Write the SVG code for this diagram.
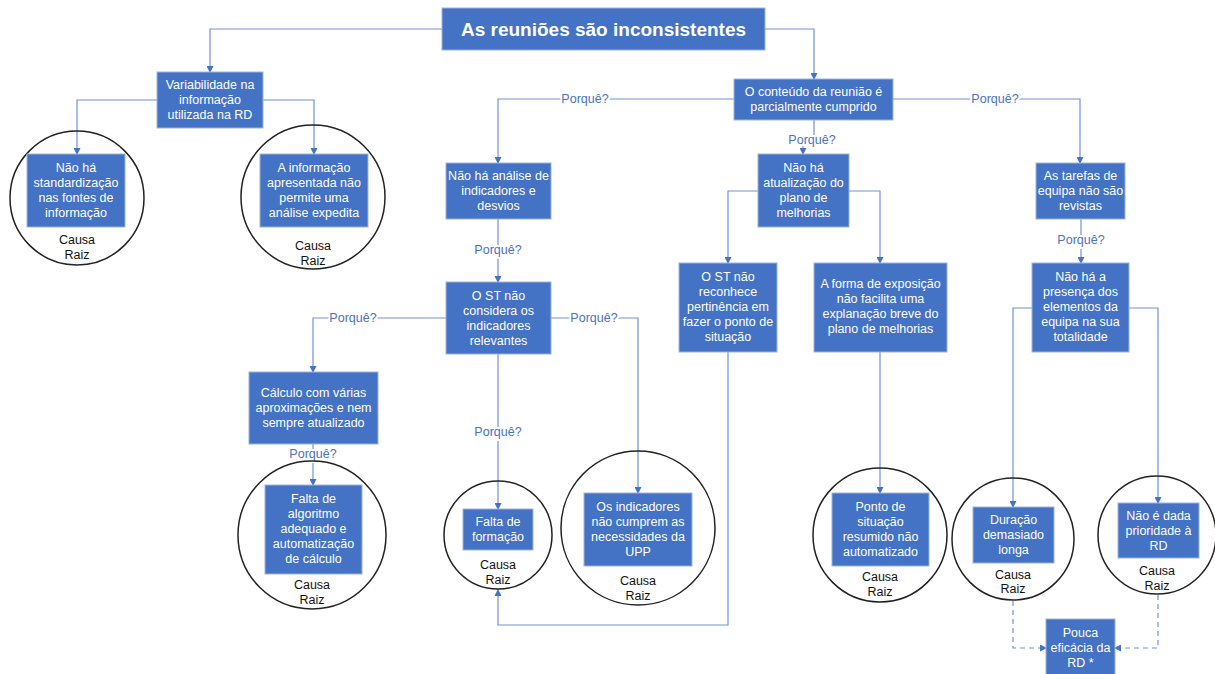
<svg xmlns="http://www.w3.org/2000/svg" width="1215" height="674" viewBox="0 0 1215 674">
  <style>
    .box { fill: #4472C4; stroke: #9db4e0; stroke-width: 1; }
    .t { font-family: "Liberation Sans", Arial, sans-serif; font-size: 12.5px; fill: #ffffff; text-anchor: middle; }
    .title { font-family: "Liberation Sans", Arial, sans-serif; font-size: 19px; font-weight: bold; fill: #ffffff; text-anchor: middle; }
    .root { fill: none; stroke: #222222; stroke-width: 1.5; }
    .rc { font-family: "Liberation Sans", Arial, sans-serif; font-size: 12.5px; fill: #111111; text-anchor: middle; }
    .edge { fill: none; stroke: #6f93d8; stroke-width: 1.2; marker-end: url(#arr); }
    .dash { stroke-dasharray: 5 4; }
    .lbl { font-family: "Liberation Sans", Arial, sans-serif; font-size: 12.5px; fill: #4a72bd; text-anchor: middle; stroke: #ffffff; stroke-width: 4; paint-order: stroke; }
  </style>
  <defs>
    <marker id="arr" markerUnits="userSpaceOnUse" markerWidth="7" markerHeight="7" refX="6" refY="3.5" orient="auto">
      <path d="M0,0 L7,3.5 L0,7 Z" fill="#4472C4"/>
    </marker>
  </defs>
  <rect width="1215" height="674" fill="#ffffff"/>

  <!-- connectors -->
  <g id="connectors">
    <path class="edge" d="M442,29 H210 V72"/>
    <path class="edge" d="M765,29 H814 V79"/>
    <path class="edge" d="M157,100 H77 V154"/>
    <path class="edge" d="M263,100 H314 V154"/>
    <path class="edge" d="M734,99 H498 V163"/>
    <path class="edge" d="M893,99 H1080 V163"/>
    <path class="edge" d="M814,120 V137 H803 V154"/>
    <path class="edge" d="M498,219 V282"/>
    <path class="edge" d="M758,191 H728 V263"/>
    <path class="edge" d="M849,191 H880 V263"/>
    <path class="edge" d="M1081,219 V263"/>
    <path class="edge" d="M446,318 H313 V372"/>
    <path class="edge" d="M551,318 H638 V493"/>
    <path class="edge" d="M498,354 V509"/>
    <path class="edge" d="M313,444 V485"/>
    <path class="edge" d="M728,352 V625 H498 V590"/>
    <path class="edge" d="M880,352 V493"/>
    <path class="edge" d="M1032,308 H1013 V507"/>
    <path class="edge" d="M1129,308 H1158 V503"/>
    <path class="edge dash" d="M1013,601 V648 H1046"/>
    <path class="edge dash" d="M1158,595 V648 H1115"/>
    <text class="lbl" x="585" y="103">Porquê?</text>
    <text class="lbl" x="995" y="103">Porquê?</text>
    <text class="lbl" x="812" y="144">Porquê?</text>
    <text class="lbl" x="498" y="254">Porquê?</text>
    <text class="lbl" x="1081" y="244">Porquê?</text>
    <text class="lbl" x="353" y="322">Porquê?</text>
    <text class="lbl" x="594" y="322">Porquê?</text>
    <text class="lbl" x="498" y="436">Porquê?</text>
    <text class="lbl" x="313" y="458">Porquê?</text>
  </g>

  <g id="title">
    <rect class="box" x="442" y="8" width="323" height="42"/>
    <text class="title" x="603.5" y="36">As reuniões são inconsistentes</text>
  </g>

  <g id="variabilidade">
    <rect class="box" x="157" y="72" width="106" height="56"/>
    <text class="t" x="210" y="89">Variabilidade na</text>
    <text class="t" x="210" y="104">informação</text>
    <text class="t" x="210" y="119">utilizada na RD</text>
  </g>

  <g id="standardizacao">
    <circle class="root" cx="77" cy="198" r="67"/>
    <rect class="box" x="27" y="154" width="98" height="73"/>
    <text class="t" x="76" y="172">Não há</text>
    <text class="t" x="76" y="187">standardização</text>
    <text class="t" x="76" y="202">nas fontes de</text>
    <text class="t" x="76" y="217">informação</text>
    <text class="rc" x="77" y="244">Causa</text>
    <text class="rc" x="77" y="259">Raiz</text>
  </g>

  <g id="informacao">
    <circle class="root" cx="313" cy="197" r="72"/>
    <rect class="box" x="260" y="154" width="108" height="73"/>
    <text class="t" x="314" y="172">A informação</text>
    <text class="t" x="314" y="187">apresentada não</text>
    <text class="t" x="314" y="202">permite uma</text>
    <text class="t" x="314" y="217">análise expedita</text>
    <text class="rc" x="313" y="250">Causa</text>
    <text class="rc" x="313" y="265">Raiz</text>
  </g>

  <g id="conteudo">
    <rect class="box" x="734" y="79" width="159" height="41"/>
    <text class="t" x="813.5" y="96">O conteúdo da reunião é</text>
    <text class="t" x="813.5" y="111">parcialmente cumprido</text>
  </g>

  <g id="analise">
    <rect class="box" x="446" y="163" width="105" height="56"/>
    <text class="t" x="498.5" y="180">Não há análise de</text>
    <text class="t" x="498.5" y="195">indicadores e</text>
    <text class="t" x="498.5" y="210">desvios</text>
  </g>

  <g id="atualizacao">
    <rect class="box" x="758" y="154" width="91" height="73"/>
    <text class="t" x="803.5" y="172">Não há</text>
    <text class="t" x="803.5" y="187">atualização do</text>
    <text class="t" x="803.5" y="202">plano de</text>
    <text class="t" x="803.5" y="217">melhorias</text>
  </g>

  <g id="tarefas">
    <rect class="box" x="1036" y="163" width="89" height="56"/>
    <text class="t" x="1080.5" y="180">As tarefas de</text>
    <text class="t" x="1080.5" y="195">equipa não são</text>
    <text class="t" x="1080.5" y="210">revistas</text>
  </g>

  <g id="considera">
    <rect class="box" x="446" y="282" width="105" height="72"/>
    <text class="t" x="498.5" y="300">O ST não</text>
    <text class="t" x="498.5" y="315">considera os</text>
    <text class="t" x="498.5" y="330">indicadores</text>
    <text class="t" x="498.5" y="345">relevantes</text>
  </g>

  <g id="reconhece">
    <rect class="box" x="679" y="263" width="98" height="89"/>
    <text class="t" x="728" y="281">O ST não</text>
    <text class="t" x="728" y="296">reconhece</text>
    <text class="t" x="728" y="311">pertinência em</text>
    <text class="t" x="728" y="326">fazer o ponto de</text>
    <text class="t" x="728" y="341">situação</text>
  </g>

  <g id="exposicao">
    <rect class="box" x="814" y="263" width="133" height="89"/>
    <text class="t" x="880.5" y="288">A forma de exposição</text>
    <text class="t" x="880.5" y="303">não facilita uma</text>
    <text class="t" x="880.5" y="318">explanação breve do</text>
    <text class="t" x="880.5" y="333">plano de melhorias</text>
  </g>

  <g id="presenca">
    <rect class="box" x="1032" y="263" width="97" height="89"/>
    <text class="t" x="1080.5" y="281">Não há a</text>
    <text class="t" x="1080.5" y="296">presença dos</text>
    <text class="t" x="1080.5" y="311">elementos da</text>
    <text class="t" x="1080.5" y="326">equipa na sua</text>
    <text class="t" x="1080.5" y="341">totalidade</text>
  </g>

  <g id="calculo">
    <rect class="box" x="249" y="372" width="129" height="72"/>
    <text class="t" x="313.5" y="397">Cálculo com várias</text>
    <text class="t" x="313.5" y="412">aproximações e nem</text>
    <text class="t" x="313.5" y="427">sempre atualizado</text>
  </g>

  <g id="algoritmo">
    <circle class="root" cx="312" cy="535" r="74"/>
    <rect class="box" x="265" y="485" width="97" height="89"/>
    <text class="t" x="313.5" y="503">Falta de</text>
    <text class="t" x="313.5" y="518">algoritmo</text>
    <text class="t" x="313.5" y="533">adequado e</text>
    <text class="t" x="313.5" y="548">automatização</text>
    <text class="t" x="313.5" y="563">de cálculo</text>
    <text class="rc" x="312" y="589">Causa</text>
    <text class="rc" x="312" y="604">Raiz</text>
  </g>

  <g id="formacao">
    <circle class="root" cx="498" cy="535" r="54"/>
    <rect class="box" x="463" y="509" width="70" height="41"/>
    <text class="t" x="498" y="526">Falta de</text>
    <text class="t" x="498" y="541">formação</text>
    <text class="rc" x="498" y="569">Causa</text>
    <text class="rc" x="498" y="584">Raiz</text>
  </g>

  <g id="necessidades">
    <circle class="root" cx="638" cy="528" r="77"/>
    <rect class="box" x="584" y="493" width="108" height="73"/>
    <text class="t" x="638" y="511">Os indicadores</text>
    <text class="t" x="638" y="526">não cumprem as</text>
    <text class="t" x="638" y="541">necessidades da</text>
    <text class="t" x="638" y="556">UPP</text>
    <text class="rc" x="638" y="585">Causa</text>
    <text class="rc" x="638" y="600">Raiz</text>
  </g>

  <g id="ponto-situacao">
    <circle class="root" cx="880" cy="535" r="67"/>
    <rect class="box" x="832" y="493" width="97" height="73"/>
    <text class="t" x="880.5" y="511">Ponto de</text>
    <text class="t" x="880.5" y="526">situação</text>
    <text class="t" x="880.5" y="541">resumido não</text>
    <text class="t" x="880.5" y="556">automatizado</text>
    <text class="rc" x="880" y="581">Causa</text>
    <text class="rc" x="880" y="596">Raiz</text>
  </g>

  <g id="duracao">
    <circle class="root" cx="1013" cy="539" r="61"/>
    <rect class="box" x="973" y="507" width="81" height="56"/>
    <text class="t" x="1013.5" y="524">Duração</text>
    <text class="t" x="1013.5" y="539">demasiado</text>
    <text class="t" x="1013.5" y="554">longa</text>
    <text class="rc" x="1013" y="579">Causa</text>
    <text class="rc" x="1013" y="593">Raiz</text>
  </g>

  <g id="prioridade">
    <circle class="root" cx="1157" cy="535" r="59"/>
    <rect class="box" x="1118" y="503" width="81" height="55"/>
    <text class="t" x="1158.5" y="520">Não é dada</text>
    <text class="t" x="1158.5" y="535">prioridade à</text>
    <text class="t" x="1158.5" y="550">RD</text>
    <text class="rc" x="1157" y="575">Causa</text>
    <text class="rc" x="1157" y="590">Raiz</text>
  </g>

  <g id="eficacia">
    <rect class="box" x="1046" y="619" width="69" height="60"/>
    <text class="t" x="1080.5" y="637">Pouca</text>
    <text class="t" x="1080.5" y="652">eficácia da</text>
    <text class="t" x="1080.5" y="667">RD *</text>
  </g>
</svg>
